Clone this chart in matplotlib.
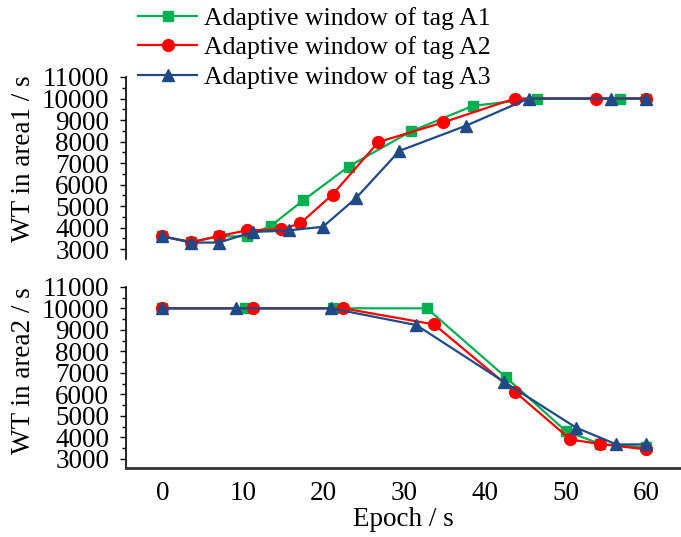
import matplotlib
matplotlib.use("Agg")
import matplotlib.pyplot as plt
from matplotlib.ticker import MultipleLocator

plt.rcParams["font.family"] = ["Liberation Serif", "DejaVu Serif"]
plt.rcParams["font.size"] = 19.5

# area 1 (top panel)
a1_x1 = [0, 3.6, 7.0, 10.5, 13.5, 17.5, 23.1, 30.8, 38.5, 46.4, 56.8, 60]
a1_y1 = [3600, 3330, 3600, 3600, 4100, 5280, 6840, 8470, 9660, 10000, 10000, 10000]
a1_x2 = [0, 3.6, 7.0, 10.5, 14.7, 17.1, 21.1, 26.8, 34.8, 43.7, 53.8, 60]
a1_y2 = [3600, 3330, 3610, 3880, 3920, 4200, 5540, 7980, 8890, 10000, 10000, 10000]
a1_x3 = [0, 3.6, 7.0, 11.2, 15.7, 19.9, 24.0, 29.4, 37.6, 45.4, 55.6, 60]
a1_y3 = [3600, 3310, 3310, 3800, 3880, 4040, 5370, 7570, 8730, 10000, 10000, 10000]

# area 2 (bottom panel)
a2_x1 = [0, 10.25, 21.2, 32.8, 42.6, 50.0, 54.3, 60]
a2_y1 = [10000, 10000, 10000, 10000, 6790, 4300, 3690, 3530]
a2_x2 = [0, 11.3, 22.4, 33.7, 43.7, 50.6, 54.2, 60]
a2_y2 = [10000, 10000, 10000, 9250, 6120, 3900, 3690, 3440]
a2_x3 = [0, 9.1, 20.9, 31.5, 42.4, 51.3, 56.3, 60]
a2_y3 = [10000, 10000, 10000, 9220, 6570, 4450, 3670, 3670]

labels = ["Adaptive window of tag A1", "Adaptive window of tag A2", "Adaptive window of tag A3"]
colors = ["#00B050", "#FF0000", "#1F4A85"]
markers = ["s", "o", "^"]
msizes = [7.5, 8.5, 9]
xticks = [0, 10, 20, 30, 40, 50, 60]
yticks = [3000, 4000, 5000, 6000, 7000, 8000, 9000, 10000, 11000]

fig = plt.figure(figsize=(6.81, 5.37), dpi=100)
W, H = 681, 537
ax1 = fig.add_axes([126 / W, 1 - 258.5 / H, (W - 126) / W, (258.5 - 77) / H])
ax2 = fig.add_axes([126 / W, 1 - 468.3 / H, (W - 126) / W, (468.3 - 286.8) / H])

top = [(a1_x1, a1_y1), (a1_x2, a1_y2), (a1_x3, a1_y3)]
bot = [(a2_x1, a2_y1), (a2_x2, a2_y2), (a2_x3, a2_y3)]

handles = []
for i in range(3):
    h, = ax1.plot(top[i][0], top[i][1], color=colors[i], marker=markers[i],
                  markersize=msizes[i], linewidth=1.6, label=labels[i])
    ax2.plot(bot[i][0], bot[i][1], color=colors[i], marker=markers[i],
             markersize=msizes[i], linewidth=1.6)
    handles.append(h)

for ax, lo, lab, ly in [(ax1, 2570, "WT in area1 / s", 0.55), (ax2, 2560, "WT in area2 / s", 0.54)]:
    ax.set_xlim(-4.5, 64.3)
    ax.set_ylim(lo, 11000)
    ax.set_yticks(yticks)
    ax.yaxis.set_minor_locator(MultipleLocator(500))
    ax.tick_params(axis="y", which="major", direction="out", length=4, width=1, pad=8)
    ax.tick_params(axis="y", which="minor", direction="out", length=3, width=1)
    for s in ["top", "right"]:
        ax.spines[s].set_visible(False)
    ax.spines["left"].set_linewidth(1.2)
    ax.set_ylabel(lab)
    ax.yaxis.set_label_coords(-0.163, ly)

ax1.spines["bottom"].set_visible(False)
ax1.set_xticks([])
ax2.set_xticks(xticks)
ax2.tick_params(axis="x", length=0, pad=9)
ax2.spines["bottom"].set_linewidth(2)
ax2.spines["bottom"].set_color("#333333")
ax2.set_xlabel("Epoch / s", labelpad=1)

fig.legend(handles=handles, loc="upper left", bbox_to_anchor=(138 / W, 1 - 7 / H),
           frameon=False, fontsize=18.5, handlelength=2.3, handletextpad=0.25,
           labelspacing=0.25, borderpad=0, borderaxespad=0)

fig.savefig("out.png", dpi=100)
